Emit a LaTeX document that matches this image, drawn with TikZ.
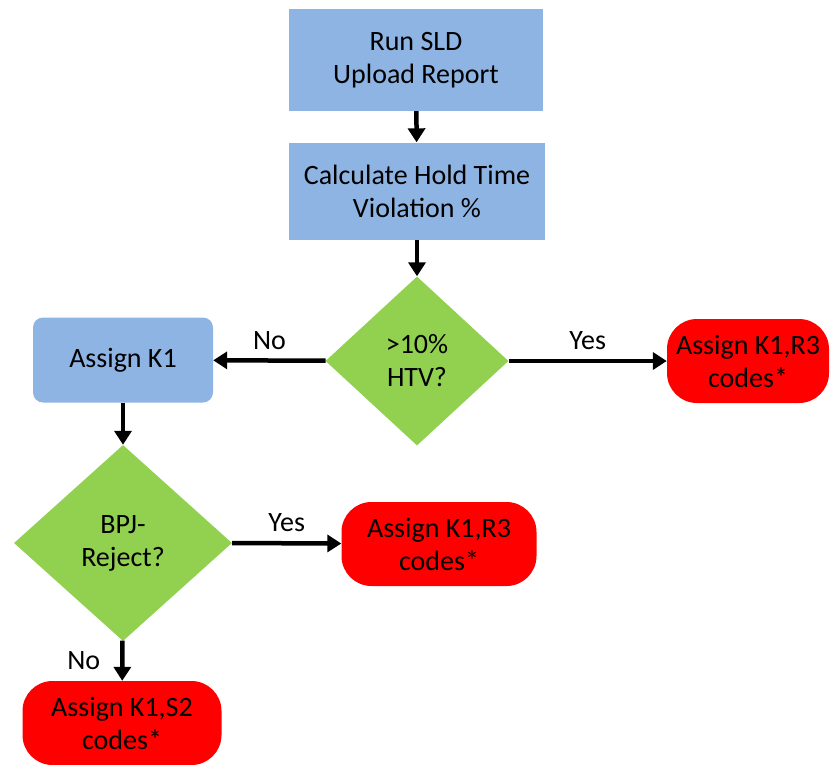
\documentclass[tikz,border=0pt]{standalone}
\usepackage{fontspec}
\setmainfont{Carlito}
\usetikzlibrary{arrows.meta}
\usetikzlibrary{shapes.geometric}
\definecolor{boxblue}{HTML}{8EB4E3}
\definecolor{decgreen}{HTML}{92D050}
\definecolor{codered}{HTML}{FF0000}

\begin{document}
\begin{tikzpicture}[x=1pt, y=-1pt, > = {Triangle[length=14pt,width=17pt]},
	every node/.style={font=\fontsize{28}{33}\selectfont, align=center, inner sep=0pt},
	step box/.style={fill=boxblue, minimum width=#1},
	decision/.style={diamond, fill=decgreen},
	code box/.style={fill=codered, rounded corners=30pt, minimum height=84pt},
	flow/.style={->, line width=4.5pt}]
	\useasboundingbox (0,0) rectangle (830,764);

	\node[step box=254pt, minimum height=102pt] (run) at (416,60) {Run SLD\\Upload Report};
	\node[step box=256pt, minimum height=97pt] (calc) at (417,191) {Calculate Hold Time\\Violation \%};
	\node[decision, minimum width=183pt, minimum height=169pt] (htv) at (417,361) {>10\%\\HTV?};
	\node[step box=180pt, minimum height=85pt, rounded corners=10pt] (k1) at (123,360) {Assign K1};
	\node[code box, minimum width=162pt] (kr3a) at (748,361) {Assign K1,R3\\codes*};
	\node[decision, minimum width=218pt, minimum height=196pt] (bpj) at (123,543) {BPJ-\\Reject?};
	\node[code box, minimum width=195pt] (kr3b) at (439,544) {Assign K1,R3\\codes*};
	\node[code box, minimum width=199pt] (ks2) at (122,723) {Assign K1,S2\\codes*};

	\draw[flow] (run) -- (calc);
	\draw[flow] (calc) -- (htv);
	\draw[flow] (htv) -- (k1) node[midway, above=9pt] {No}; % no branch
	\draw[flow] (htv) -- (kr3a) node[midway, above=9pt] {Yes}; % yes branch
	\draw[flow] (k1) -- (bpj);
	\draw[flow] (bpj.east) -- (kr3b) node[midway, above=9pt] {Yes};
	\draw[flow] (bpj) -- (ks2) node[midway, left=20pt] {No};
\end{tikzpicture}
\end{document}
